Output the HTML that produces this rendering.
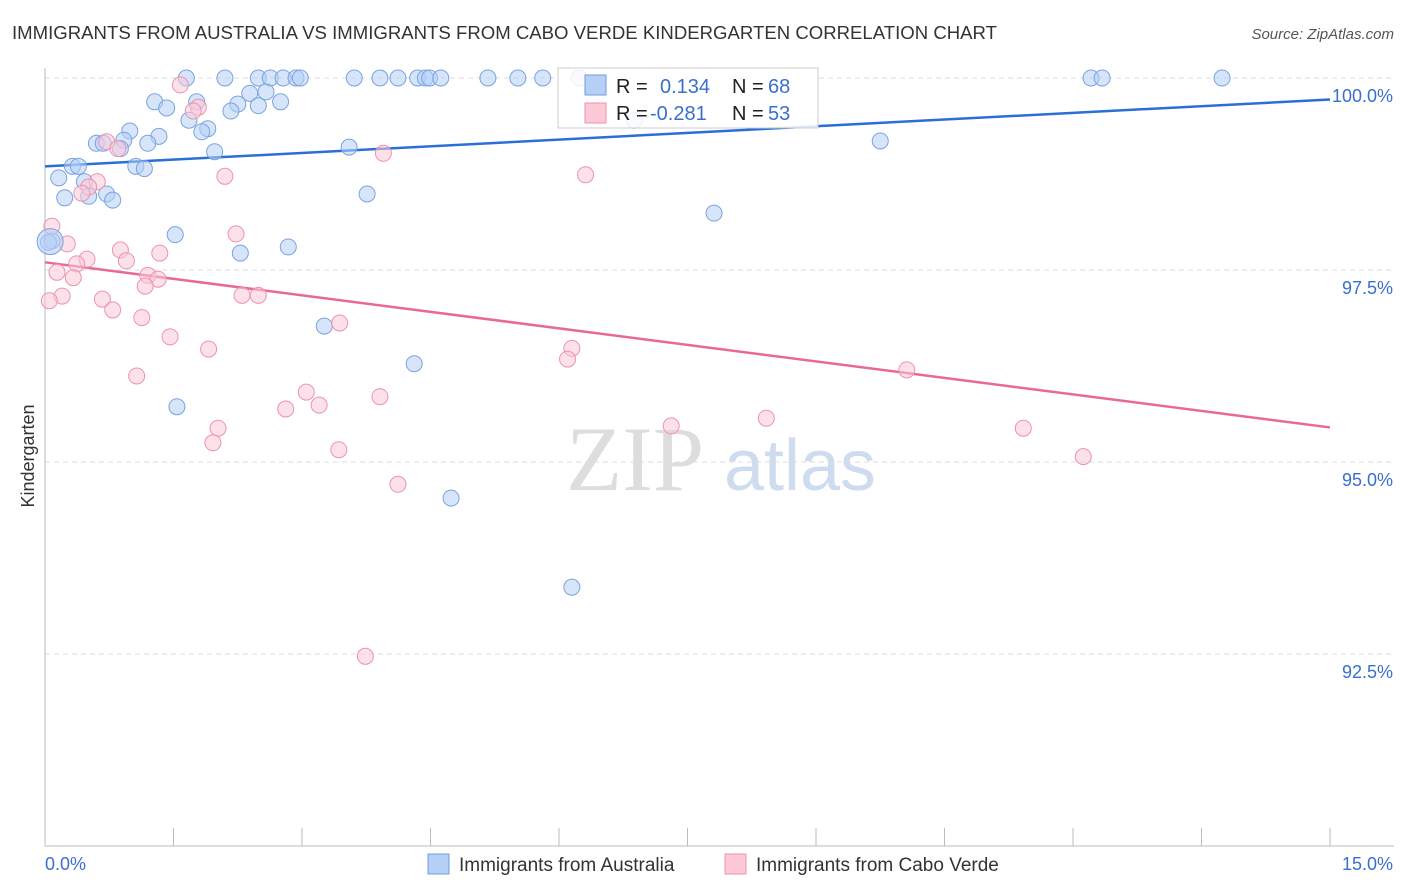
<!DOCTYPE html>
<html><head><meta charset="utf-8"><style>
body{margin:0;background:#fff;font-family:"Liberation Sans",sans-serif;}
svg{display:block}
</style></head><body>
<svg id="chart" width="1406" height="892" xmlns="http://www.w3.org/2000/svg">
<text x="12" y="39" font-size="18" fill="#333" textLength="985" lengthAdjust="spacingAndGlyphs">IMMIGRANTS FROM AUSTRALIA VS IMMIGRANTS FROM CABO VERDE KINDERGARTEN CORRELATION CHART</text>
<text x="1394" y="39" font-size="15" fill="#555" font-style="italic" text-anchor="end">Source: ZipAtlas.com</text>
<g>
<text x="635" y="490" font-size="92" font-family="Liberation Serif,serif" fill="#ddd" text-anchor="middle">ZIP</text>
<text x="800" y="490" font-size="72" fill="#cfdcef" text-anchor="middle">atlas</text>
</g>
<g id="grid"></g>
<g id="axes"></g>
<g id="trend"></g>
<g id="points"></g>
<text x="34" y="456" font-size="18" fill="#333" text-anchor="middle" transform="rotate(-90 34 456)">Kindergarten</text>
<g>
<rect x="558" y="68" width="260" height="60" fill="#fff" fill-opacity="0.85" stroke="#ccc"/>
<rect x="585" y="75" width="21" height="20" fill="#b5cff5" stroke="#6f9de0"/>
<rect x="585" y="103" width="21" height="20" fill="#fcc9d7" stroke="#ec93ae"/>
<text x="616" y="93" font-size="20" fill="#222">R =</text><text x="660" y="93" font-size="20" fill="#3a6fd0">0.134</text>
<text x="732" y="93" font-size="20" fill="#222">N =</text><text x="768" y="93" font-size="20" fill="#3a6fd0">68</text>
<text x="616" y="120" font-size="20" fill="#222">R =</text><text x="650" y="120" font-size="20" fill="#3a6fd0">-0.281</text>
<text x="732" y="120" font-size="20" fill="#222">N =</text><text x="768" y="120" font-size="20" fill="#3a6fd0">53</text>
</g>
<g>
<rect x="428" y="854" width="21" height="20" fill="#b5cff5" stroke="#6f9de0"/>
<text x="459" y="871" font-size="19" fill="#333">Immigrants from Australia</text>
<rect x="725" y="854" width="21" height="20" fill="#fcc9d7" stroke="#ec93ae"/>
<text x="756" y="871" font-size="19" fill="#333">Immigrants from Cabo Verde</text>
</g>
</svg>
<script>
const xTicks=[0,1.5,3,4.5,6,7.5,9,10.5,12,13.5,15];
const yTicks=[92.5,95,97.5,100];
const yTickLabels=["92.5%","95.0%","97.5%","100.0%"];
const blueX=[1.65,2.10,2.49,2.63,2.78,2.93,2.98,3.61,3.91,4.12,4.35,4.44,4.49,4.62,5.17,5.52,5.81,6.24,12.21,12.34,13.74,1.28,1.42,1.77,2.25,2.39,2.58,2.75,2.17,2.49,1.68,1.90,1.83,0.99,0.92,1.33,0.60,0.68,1.20,0.88,1.98,0.32,0.39,1.06,1.16,0.16,0.46,0.23,0.51,0.72,0.79,3.55,3.76,7.81,9.75,0.08,1.52,2.28,2.84,3.26,4.31,1.54,4.74,6.15,0.04,6.88];
const blueY=[100,100,100,100,100,100,100,100,100,100,100,100,100,100,100,100,100,100,100,100,100,99.69,99.61,99.69,99.66,99.80,99.82,99.69,99.57,99.64,99.45,99.34,99.30,99.31,99.19,99.24,99.15,99.15,99.15,99.08,99.04,98.85,98.85,98.85,98.82,98.70,98.65,98.44,98.46,98.49,98.41,99.10,98.49,98.24,99.18,97.88,97.96,97.72,97.80,96.77,96.28,95.72,94.53,93.37,97.86,99.45];
const pinkX=[1.58,1.79,1.73,0.72,0.85,3.95,2.10,6.31,0.61,0.51,0.43,0.08,0.26,2.23,0.88,1.34,0.49,0.37,0.95,0.14,0.33,1.20,1.32,1.17,0.20,0.05,0.67,2.30,2.49,0.79,1.13,3.44,1.46,1.91,6.15,6.10,1.07,10.06,3.05,3.91,2.81,3.20,8.42,7.31,11.42,2.02,1.96,3.43,12.12,4.12,3.74];
const pinkY=[99.91,99.62,99.57,99.17,99.08,99.02,98.72,98.74,98.65,98.58,98.50,98.07,97.84,97.97,97.76,97.72,97.64,97.58,97.62,97.47,97.40,97.43,97.38,97.29,97.16,97.10,97.12,97.17,97.17,96.98,96.88,96.81,96.63,96.47,96.48,96.34,96.12,96.20,95.91,95.85,95.69,95.74,95.57,95.47,95.44,95.44,95.25,95.16,95.07,94.71,92.47];
const blueTrend=[98.85,99.72];
const pinkTrend=[97.60,95.45];
const X=v=>45+v*(1285/15);
const Y=v=>78+(100-v)*76.8;
const NS="http://www.w3.org/2000/svg";
function mk(tag,attrs,parent){const e=document.createElementNS(NS,tag);for(const k in attrs)e.setAttribute(k,attrs[k]);document.getElementById(parent).appendChild(e);return e;}
yTicks.forEach((t,i)=>{
 const l=mk('line',{x1:45,x2:1394,y1:Y(t),y2:Y(t),stroke:'#ddd','stroke-dasharray':'5,4'},'grid');
 
 
 const tx=mk('text',{x:1393,y:Y(t)+24,'font-size':18,fill:'#3a6fd0','text-anchor':'end'},'axes');
 tx.textContent=yTickLabels[i];
 
 
});
const ax=mk('line',{x1:45,x2:45,y1:68,y2:846,stroke:'#bbb'},'axes');


const bx=mk('line',{x1:45,x2:1394,y1:846,y2:846,stroke:'#bbb'},'axes');


xTicks.forEach(t=>{
 const l=mk('line',{x1:X(t),x2:X(t),y1:828,y2:846,stroke:'#bbb'},'axes');
 
 
});
[[0,'start','0.0%'],[15,'end','15.0%']].forEach(([v,a,s])=>{
 const t=mk('text',{x:X(v)+(v?63:0),y:870,'font-size':18,fill:'#3a6fd0','text-anchor':a},'axes');
 t.textContent=s;
 
 
});
blueX.forEach((x,i)=>{
 const c=mk('circle',{cx:X(x),cy:Y(blueY[i]),r:8,fill:'#b5cff5','fill-opacity':0.55,stroke:'#7aa3e0','stroke-width':1},'points');
 
 
});
pinkX.forEach((x,i)=>{
 const c=mk('circle',{cx:X(x),cy:Y(pinkY[i]),r:8,fill:'#fcc9d7','fill-opacity':0.55,stroke:'#ec93ae','stroke-width':1},'points');
 
 
});
const big=mk('circle',{cx:X(0.06),cy:Y(97.87),r:13,fill:'#b5cff5','fill-opacity':0.6,stroke:'#7aa3e0'},'points');


const bl=mk('line',{x1:X(0),y1:Y(blueTrend[0]),x2:X(15),y2:Y(blueTrend[1]),stroke:'#2a6fd6','stroke-width':2.5},'trend');


const pl=mk('line',{x1:X(0),y1:Y(pinkTrend[0]),x2:X(15),y2:Y(pinkTrend[1]),stroke:'#e8689a','stroke-width':2.5},'trend');


</script>
</body></html>
